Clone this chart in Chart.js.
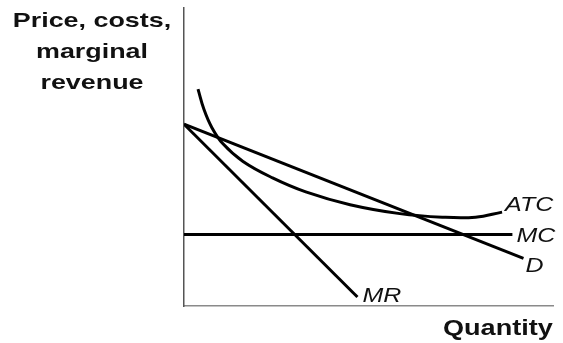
<!DOCTYPE html>
<html>
<head>
<meta charset="utf-8">
<script src="https://cdn.jsdelivr.net/npm/chart.js@4.4.1/dist/chart.umd.min.js"></script>
<style>
  body { margin: 0; background: #fff; }
  canvas { display: block; }
</style>
</head>
<body>
<canvas id="monopolyChart" width="563" height="343"></canvas>
<script>
// values, both axes in units 0..100
const atcX = [3.8, 5.4, 7.5, 10.5, 16.0, 24.0, 33.0, 45.0, 58.5, 70.0, 79.0, 86.2];
const atcY = [72.8, 66.0, 60.0, 54.5, 48.5, 43.0, 38.3, 34.0, 31.0, 29.8, 29.8, 31.5];
const mcX = [0, 89];
const mcY = [24, 24];
const dX = [0, 92];
const dY = [61, 16];
const mrX = [0, 47];
const mrY = [61, 3];
const curveNames = ['ATC', 'MC', 'D', 'MR'];
const yTitleLines = ['Price, costs,', 'marginal', 'revenue'];
const xTitle = 'Quantity';

function toPoints(xs, ys) {
    return xs.map((x, i) => ({ x: x, y: ys[i] }));
}

/** Draw a text stretched horizontally. */
function drawText(ctx, text, x, y, sx, align) {
    ctx.save();
    ctx.translate(x, y);
    ctx.scale(sx, 1);
    ctx.textAlign = align || 'left';
    ctx.fillText(text, 0, 0);
    ctx.restore();
}

// offsets of each curve label from the curve's last point
const labelOffsets = [[3, -1], [4, 8], [2, 14], [5, 5]];

const textPlugin = {
    id: 'textPlugin',
    afterDatasetsDraw(chart) {
        const ctx = chart.ctx;
        ctx.fillStyle = '#111';
        ctx.textBaseline = 'alphabetic';

        /** Axis titles. */
        ctx.font = 'bold 21px "Liberation Sans", Arial, sans-serif';
        const baselines = [27, 58, 89];
        yTitleLines.forEach((line, i) => drawText(ctx, line, 92, baselines[i], 1.28, 'center'));
        ctx.font = 'bold 22px "Liberation Sans", Arial, sans-serif';
        drawText(ctx, xTitle, 443, 335, 1.23, 'left');

        /** Curve labels next to their end points. */
        ctx.font = 'italic 20px "Liberation Sans", Arial, sans-serif';
        chart.data.datasets.forEach((ds, i) => {
            const meta = chart.getDatasetMeta(i);
            const last = meta.data[meta.data.length - 1];
            drawText(ctx, curveNames[i], last.x + labelOffsets[i][0], last.y + labelOffsets[i][1], 1.25, 'left');
        });
    }
};

const lineStyle = {
    borderColor: '#000',
    borderWidth: 3,
    pointRadius: 0,
    fill: false
};

const ctxL = document.getElementById('monopolyChart').getContext('2d');
new Chart(ctxL, {
    type: 'line',
    data: {
        datasets: [
            Object.assign({ label: 'ATC', data: toPoints(atcX, atcY), tension: 0.4 }, lineStyle),
            Object.assign({ label: 'MC', data: toPoints(mcX, mcY) }, lineStyle),
            Object.assign({ label: 'D', data: toPoints(dX, dY) }, lineStyle),
            Object.assign({ label: 'MR', data: toPoints(mrX, mrY) }, lineStyle)
        ]
    },
    options: {
        responsive: false,
        animation: false,
        layout: { padding: { left: 184, top: 8, right: 10, bottom: 37 } },
        plugins: {
            legend: { display: false },
            tooltip: { enabled: false }
        },
        scales: {
            x: {
                type: 'linear',
                min: 0,
                max: 100,
                ticks: { display: false },
                grid: { display: false, drawTicks: false },
                border: { display: true, color: '#8a8a8a', width: 1.5 }
            },
            y: {
                min: 0,
                max: 100,
                ticks: { display: false },
                grid: { display: false, drawTicks: false },
                border: { display: true, color: '#555', width: 1.5 }
            }
        }
    },
    plugins: [textPlugin]
});
</script>
</body>
</html>
